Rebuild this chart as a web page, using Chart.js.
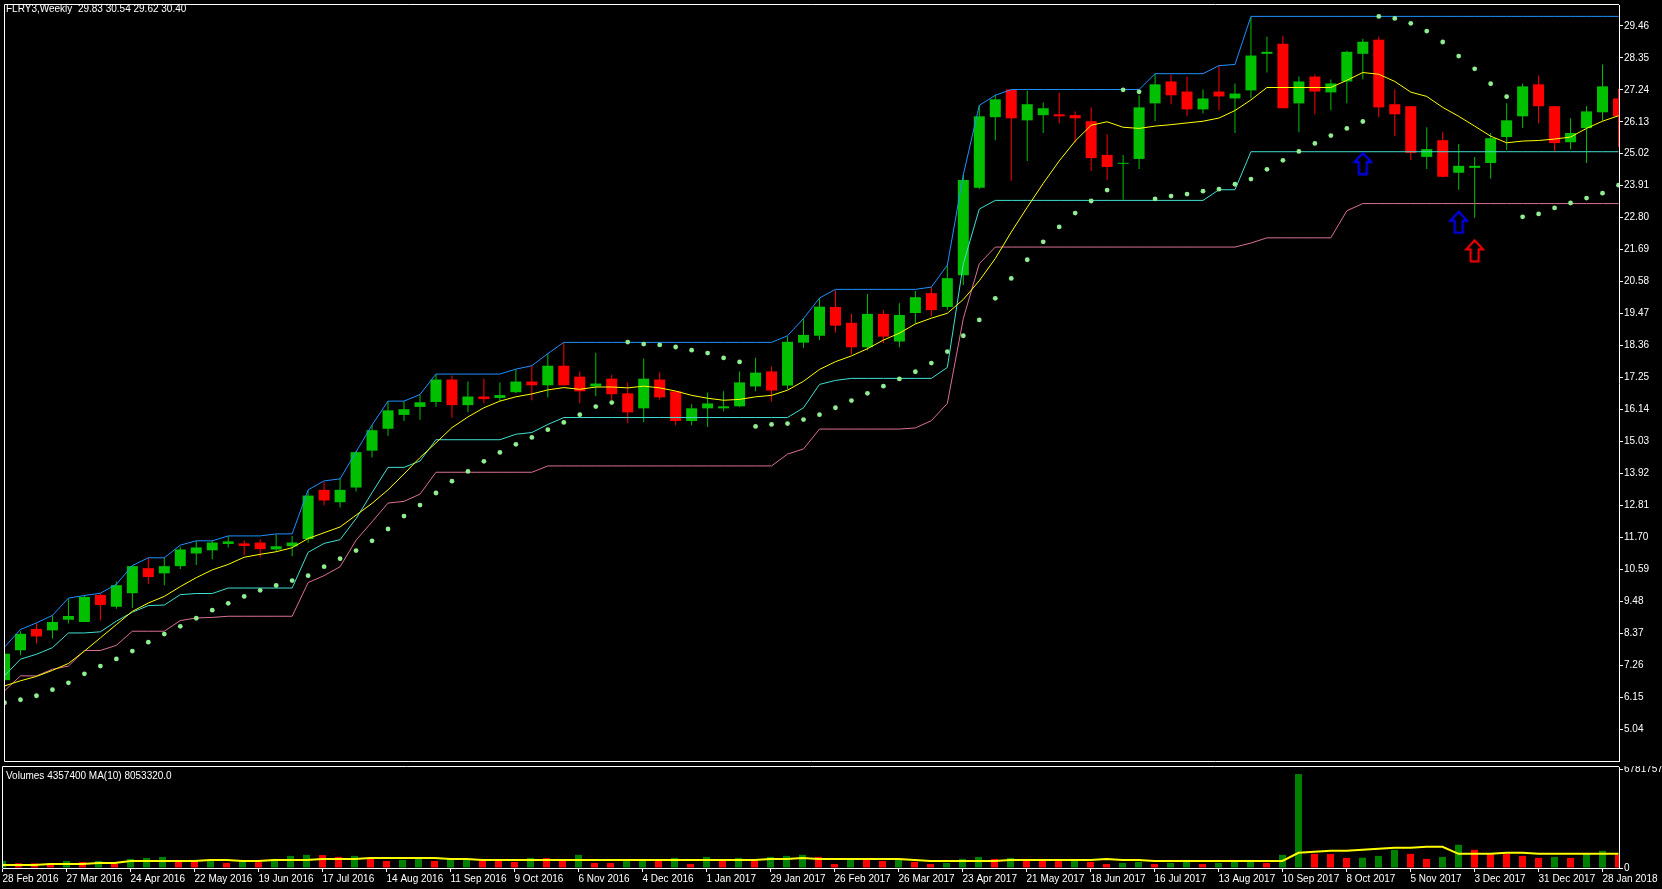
<!DOCTYPE html>
<html>
<head>
<meta charset="utf-8">
<script src="https://cdn.jsdelivr.net/npm/chart.js@4.4.1/dist/chart.umd.min.js"></script>
<style>
	html, body { margin: 0; padding: 0; background: #000; }
	body { width: 1662px; height: 889px; position: relative; overflow: hidden; font-family: "Liberation Sans", Arial, sans-serif; }
	canvas { position: absolute; left: 0; }
	#mainChart { top: 0; }
	#volumeChart { top: 766px; }
	.caption { position: absolute; left: 6px; color: #fff; font-size: 10px; line-height: 12px; white-space: pre; }
</style>
</head>
<body>
<canvas id="mainChart" width="1662" height="766"></canvas>
<canvas id="volumeChart" width="1662" height="123"></canvas>
<div class="caption" style="top:3px">FLRY3,Weekly  29.83 30.54 29.62 30.40</div>
<div class="caption" style="top:770px">Volumes 4357400 MA(10) 8053320.0</div>
<script>
// weekly bars, first one is the week of 28 Feb 2016
const opens = [6.74, 7.78, 8.52, 8.47, 8.84, 8.76, 9.70, 9.29, 9.76, 10.63,
	10.45, 10.70, 11.14, 11.25, 11.47, 11.49, 11.52, 11.28, 11.39, 11.64,
	13.35, 12.92, 13.43, 14.71, 15.47, 15.95, 16.23, 16.40, 17.18, 16.29,
	16.59, 16.54, 16.74, 17.11, 16.98, 17.66, 17.28, 16.94, 17.21, 16.70,
	16.18, 17.18, 16.77, 15.74, 16.18, 16.18, 16.25, 16.94, 17.46, 16.97,
	18.46, 18.70, 19.70, 19.15, 18.30, 19.46, 18.50, 19.49, 20.18, 19.70,
	20.80, 23.84, 26.29, 27.25, 26.18, 26.36, 26.39, 26.36, 26.15, 24.98,
	24.67, 24.84, 26.77, 27.53, 27.18, 26.56, 27.18, 26.94, 27.22, 28.49,
	28.84, 26.77, 27.70, 27.15, 27.53, 28.49, 28.98, 26.74, 26.67, 24.91,
	25.49, 24.36, 24.53, 24.70, 25.60, 26.32, 27.43, 26.67, 25.42, 25.91,
	26.46, 26.94];
const highs = [7.85, 8.44, 8.73, 8.99, 9.57, 9.68, 9.76, 10.17, 10.72, 10.99,
	10.99, 11.37, 11.57, 11.58, 11.75, 11.59, 11.63, 11.81, 11.75, 13.33,
	13.62, 13.75, 14.70, 15.60, 16.43, 16.43, 16.66, 17.37, 17.32, 17.11,
	17.21, 17.08, 17.53, 17.66, 18.08, 18.47, 17.46, 18.11, 17.35, 17.08,
	17.91, 17.42, 16.77, 16.32, 16.73, 16.77, 17.46, 17.94, 17.63, 18.68,
	19.30, 20.00, 20.28, 19.46, 20.15, 19.59, 19.83, 20.25, 20.39, 21.15,
	24.29, 26.70, 27.07, 27.25, 27.22, 26.80, 27.15, 26.49, 26.63, 25.70,
	24.98, 27.05, 27.80, 27.77, 27.70, 27.25, 28.08, 27.46, 29.77, 29.08,
	29.12, 27.70, 27.77, 27.60, 28.60, 29.01, 29.08, 27.25, 26.67, 25.94,
	25.77, 25.36, 24.91, 25.74, 26.77, 27.46, 27.74, 26.67, 26.25, 26.67,
	28.12, 27.27];
const lows = [6.60, 7.61, 8.02, 8.19, 8.71, 8.76, 8.81, 9.22, 9.25, 10.08,
	10.04, 10.60, 10.74, 10.94, 11.35, 11.09, 11.01, 11.20, 11.04, 11.51,
	12.81, 12.74, 13.29, 14.47, 15.23, 15.74, 15.78, 16.23, 15.85, 16.05,
	16.36, 16.43, 16.70, 16.46, 16.56, 16.97, 16.36, 16.60, 16.45, 15.66,
	15.70, 16.49, 15.59, 15.59, 15.53, 16.08, 16.22, 16.77, 16.42, 16.84,
	18.28, 18.55, 18.81, 18.05, 18.20, 18.45, 18.30, 19.11, 19.39, 19.60,
	20.46, 23.80, 25.49, 24.08, 24.77, 25.74, 26.08, 25.42, 24.42, 24.11,
	23.42, 24.49, 26.15, 26.74, 26.32, 26.42, 26.53, 25.74, 26.95, 27.84,
	26.60, 25.77, 26.39, 26.53, 26.77, 27.60, 26.29, 25.63, 24.80, 24.49,
	24.20, 23.77, 22.80, 24.15, 25.15, 25.91, 26.08, 25.11, 25.18, 24.70,
	26.17, 25.25];
const closes = [7.66, 8.35, 8.26, 8.76, 8.97, 9.63, 9.35, 10.04, 10.70, 10.32,
	10.70, 11.28, 11.35, 11.52, 11.56, 11.40, 11.29, 11.39, 11.52, 13.15,
	12.98, 13.35, 14.66, 15.42, 16.11, 16.15, 16.39, 17.18, 16.29, 16.59,
	16.50, 16.64, 17.11, 16.98, 17.66, 16.98, 16.77, 17.04, 16.67, 16.04,
	17.21, 16.56, 15.74, 16.18, 16.35, 16.25, 17.08, 17.42, 16.80, 18.49,
	18.73, 19.71, 19.05, 18.30, 19.46, 18.67, 19.42, 20.04, 19.59, 20.70,
	24.11, 26.32, 26.91, 26.25, 26.74, 26.60, 26.32, 26.25, 24.87, 24.56,
	24.70, 26.63, 27.43, 27.05, 26.56, 26.94, 27.01, 27.11, 28.43, 28.56,
	26.60, 27.53, 27.18, 27.46, 28.56, 28.91, 26.63, 26.39, 25.05, 25.18,
	24.22, 24.60, 24.60, 25.56, 26.18, 27.36, 26.67, 25.39, 25.74, 26.49,
	27.36, 26.32];

// channel lines (blue top, turquoise and pink bottoms), yellow average, SAR dots
const upperBand = [7.89, 8.50, 8.73, 8.99, 9.59, 9.68, 9.76, 10.07, 10.72, 10.99,
	10.99, 11.43, 11.58, 11.58, 11.75, 11.75, 11.75, 11.82, 11.82, 13.35,
	13.66, 13.73, 14.67, 15.60, 16.43, 16.43, 16.66, 17.37, 17.37, 17.37,
	17.37, 17.37, 17.54, 17.66, 18.08, 18.47, 18.47, 18.47, 18.47, 18.47,
	18.47, 18.47, 18.47, 18.47, 18.47, 18.47, 18.47, 18.47, 18.47, 18.70,
	19.30, 20.01, 20.31, 20.31, 20.31, 20.31, 20.31, 20.31, 20.39, 21.15,
	24.29, 26.70, 27.05, 27.25, 27.25, 27.25, 27.25, 27.25, 27.25, 27.25,
	27.25, 27.25, 27.80, 27.80, 27.80, 27.80, 28.08, 28.12, 29.79, 29.79,
	29.79, 29.79, 29.79, 29.79, 29.79, 29.79, 29.79, 29.79, 29.79, 29.79,
	29.79, 29.79, 29.79, 29.79, 29.79, 29.79, 29.79, 29.79, 29.79, 29.79,
	29.79, 29.79];
const fastLow = [6.89, 7.47, 7.64, 7.87, 8.38, 8.38, 8.42, 8.79, 9.10, 9.33,
	9.35, 9.71, 9.75, 9.75, 9.94, 9.94, 9.94, 9.94, 9.94, 11.18,
	11.49, 11.62, 12.35, 13.25, 14.13, 14.13, 14.35, 15.09, 15.09, 15.09,
	15.09, 15.09, 15.28, 15.34, 15.62, 15.86, 15.86, 15.86, 15.86, 15.86,
	15.86, 15.86, 15.86, 15.86, 15.86, 15.86, 15.86, 15.86, 15.86, 15.86,
	16.20, 17.01, 17.15, 17.22, 17.22, 17.22, 17.22, 17.22, 17.22, 17.60,
	21.20, 23.10, 23.40, 23.40, 23.40, 23.40, 23.40, 23.40, 23.40, 23.40,
	23.40, 23.40, 23.40, 23.40, 23.40, 23.40, 23.77, 23.77, 25.09, 25.09,
	25.09, 25.09, 25.09, 25.09, 25.09, 25.09, 25.09, 25.09, 25.09, 25.09,
	25.09, 25.09, 25.09, 25.09, 25.09, 25.09, 25.09, 25.09, 25.09, 25.09,
	25.09, 25.09];
const slowLow = [6.37, 6.89, 6.89, 7.12, 7.23, 7.77, 7.77, 7.95, 8.44, 8.44,
	8.44, 8.81, 8.90, 8.92, 8.96, 8.96, 8.96, 8.96, 8.96, 10.13,
	10.37, 10.68, 11.60, 12.24, 12.89, 12.95, 13.20, 13.96, 13.96, 13.96,
	13.96, 13.96, 13.96, 13.96, 14.18, 14.18, 14.18, 14.18, 14.18, 14.18,
	14.18, 14.18, 14.18, 14.18, 14.18, 14.18, 14.18, 14.18, 14.18, 14.59,
	14.77, 15.46, 15.46, 15.46, 15.46, 15.46, 15.46, 15.50, 15.75, 16.35,
	19.30, 21.20, 21.78, 21.78, 21.78, 21.78, 21.78, 21.78, 21.78, 21.78,
	21.78, 21.78, 21.78, 21.78, 21.78, 21.78, 21.78, 21.78, 21.92, 22.10,
	22.10, 22.10, 22.10, 22.10, 23.04, 23.29, 23.29, 23.29, 23.29, 23.29,
	23.29, 23.29, 23.29, 23.29, 23.29, 23.29, 23.29, 23.29, 23.29, 23.29,
	23.29, 23.29];
const maLine = [6.54, 6.72, 6.87, 7.08, 7.32, 7.75, 8.21, 8.67, 9.13, 9.42,
	9.65, 9.99, 10.30, 10.57, 10.76, 11.01, 11.11, 11.20, 11.34, 11.66,
	11.86, 12.06, 12.47, 12.88, 13.35, 13.90, 14.47, 14.98, 15.51, 15.88,
	16.20, 16.43, 16.58, 16.68, 16.82, 16.90, 16.84, 16.92, 16.92, 16.89,
	16.95, 16.89, 16.78, 16.63, 16.53, 16.46, 16.49, 16.58, 16.63, 16.81,
	17.12, 17.53, 17.80, 18.00, 18.25, 18.55, 18.79, 19.11, 19.31, 19.48,
	19.96, 20.61, 21.38, 22.30, 23.16, 23.99, 24.77, 25.46, 26.01, 26.13,
	25.94, 25.90, 25.98, 26.03, 26.09, 26.15, 26.26, 26.52, 26.89, 27.32,
	27.32, 27.32, 27.32, 27.32, 27.57, 27.84, 27.78, 27.53, 27.16, 27.01,
	26.63, 26.32, 25.98, 25.63, 25.40, 25.46, 25.48, 25.53, 25.60, 25.90,
	26.15, 26.34];
const sarDots = [5.96, 6.06, 6.20, 6.41, 6.65, 6.96, 7.23, 7.48, 7.75, 8.06,
	8.34, 8.61, 8.89, 9.17, 9.41, 9.65, 9.86, 10.03, 10.20, 10.37,
	10.68, 10.96, 11.24, 11.58, 11.99, 12.44, 12.82, 13.24, 13.65, 13.99,
	14.34, 14.65, 14.93, 15.17, 15.44, 15.69, 15.96, 16.24, 16.38, 18.48,
	18.41, 18.38, 18.31, 18.20, 18.10, 17.93, 17.79, 15.55, 15.62, 15.65,
	15.79, 15.96, 16.20, 16.45, 16.70, 16.95, 17.20, 17.45, 17.75, 18.15,
	18.70, 19.25, 20.00, 20.69, 21.34, 21.96, 22.48, 22.96, 23.38, 23.76,
	27.24, 27.17, 23.45, 23.55, 23.62, 23.72, 23.79, 23.96, 24.14, 24.48,
	24.79, 25.10, 25.38, 25.65, 25.90, 26.14, 29.79, 29.72, 29.55, 29.28,
	28.90, 28.41, 27.97, 27.45, 27.00, 22.83, 22.93, 23.14, 23.31, 23.48,
	23.65, 23.93];

// signal arrows: [bar, price]
const blueArrows = [[85, 24.68], [91, 22.64]];
const redArrows = [[92, 21.65]];

const volumes = [4844000, 3252000, 3200000, 3180000, 4844000, 4152000, 4844000, 3252000, 6228000, 6920000,
	7612000, 4844000, 4775000, 4913000, 3460000, 4152000, 4014000, 6228000, 8304000, 8996000,
	8858000, 7612000, 8304000, 6228000, 4844000, 5536000, 6920000, 4844000, 6228000, 6366000,
	4844000, 4775000, 4152000, 6920000, 6782000, 4844000, 8996000, 3460000, 3391000, 5536000,
	5674000, 5467000, 6920000, 2768000, 7612000, 5536000, 6920000, 4844000, 7612000, 8304000,
	8996000, 7612000, 2768000, 6228000, 6159000, 4844000, 6228000, 4152000, 2768000, 3460000,
	6228000, 7612000, 6228000, 6920000, 4844000, 4775000, 4706000, 4844000, 4152000, 2768000,
	3460000, 4152000, 2768000, 3460000, 5536000, 2768000, 3460000, 4152000, 5536000, 3460000,
	8996000, 64356000, 9688000, 9550000, 6920000, 7058000, 8304000, 12456000, 9688000, 6228000,
	7612000, 15916000, 12456000, 9688000, 9550000, 8304000, 6920000, 7612000, 6920000, 9688000,
	11764000, 8996000];
// G = volume up (green), R = volume down (red)
const volumeColors = "GRRRGRGRGGGRRGRGRGGGRRGRRGGRGGRRRGRRGRRGGRGRGRGRGGGRRGRRGRRGGGRGRRRGRRGGRGGRGGGRGGRRRGGGRRGGRRRRRGRGGR";
const volumeMA = [2076000, 2076000, 2076000, 2768000, 2768000, 2768000, 3460000, 3460000, 4844000, 4844000,
	4844000, 4844000, 4844000, 5536000, 5536000, 4844000, 4844000, 5536000, 5536000, 5536000,
	6228000, 6228000, 6228000, 6920000, 6920000, 6920000, 6920000, 6920000, 6228000, 6228000,
	5536000, 5536000, 5536000, 5536000, 5536000, 5536000, 5536000, 5536000, 5536000, 5536000,
	5536000, 5536000, 5536000, 5536000, 5536000, 5536000, 5536000, 5536000, 6228000, 6228000,
	6920000, 6228000, 6228000, 6228000, 6228000, 6228000, 6228000, 5536000, 4844000, 4844000,
	4844000, 4844000, 4844000, 5536000, 5536000, 5536000, 5536000, 5536000, 5536000, 6228000,
	5536000, 5536000, 4844000, 4844000, 4844000, 4844000, 4844000, 4844000, 4844000, 4844000,
	4844000, 10380000, 11072000, 11764000, 11764000, 12456000, 13148000, 13840000, 13840000, 14532000,
	14532000, 9688000, 9688000, 9688000, 10380000, 10380000, 9688000, 9688000, 9688000, 9688000,
	9688000, 9688000];

const priceTicks = [29.46, 28.35, 27.24, 26.13, 25.02, 23.91, 22.80, 21.69, 20.58, 19.47, 18.36, 17.25,
	16.14, 15.03, 13.92, 12.81, 11.70, 10.59, 9.48, 8.37, 7.26, 6.15, 5.04];
const volumeTicks = [0, 67817573];
const dateLabels = ["28 Feb 2016", "27 Mar 2016", "24 Apr 2016", "22 May 2016", "19 Jun 2016", "17 Jul 2016",
	"14 Aug 2016", "11 Sep 2016", "9 Oct 2016", "6 Nov 2016", "4 Dec 2016", "1 Jan 2017", "29 Jan 2017",
	"26 Feb 2017", "26 Mar 2017", "23 Apr 2017", "21 May 2017", "18 Jun 2017", "16 Jul 2017", "13 Aug 2017",
	"10 Sep 2017", "8 Oct 2017", "5 Nov 2017", "3 Dec 2017", "31 Dec 2017", "28 Jan 2018"];
const barsPerLabel = 4;

const X_MIN = 0.03125;
const X_MAX = 101.03125;
const PRICE_MIN = 3.934;
const PRICE_MAX = 30.185;
const VOLUME_MAX = 69200000;

const UP = "#00C000";
const DOWN = "#FF0000";
const font = { family: "'Liberation Sans', Arial, sans-serif", size: 10 };

Chart.defaults.font.family = font.family;
Chart.defaults.color = "#fff";

const bars = opens.map((_, i) => i);
const xy = (arr) => arr.map((v, i) => ({ x: i, y: v }));
const candleColor = bars.map((i) => (closes[i] >= opens[i] ? UP : DOWN));

function makeArrow(color) {
	const c = document.createElement("canvas");
	c.width = 21;
	c.height = 24;
	const g = c.getContext("2d");
	g.strokeStyle = color;
	g.lineWidth = 2;
	g.beginPath();
	g.moveTo(10.5, 1.5);
	g.lineTo(19, 10.5);
	g.lineTo(14.5, 10.5);
	g.lineTo(14.5, 22.5);
	g.lineTo(6.5, 22.5);
	g.lineTo(6.5, 10.5);
	g.lineTo(2, 10.5);
	g.closePath();
	g.stroke();
	return c;
}

// white frame on the left and top (and bottom for the price pane)
function framePlugin(withBottom) {
	return {
		id: "frame",
		afterDraw(chart) {
			const { ctx, chartArea: a } = chart;
			ctx.save();
			ctx.strokeStyle = "#fff";
			ctx.lineWidth = 1;
			ctx.beginPath();
			ctx.moveTo(a.left - 0.5, a.bottom + 0.5);
			ctx.lineTo(a.left - 0.5, a.top - 0.5);
			ctx.lineTo(a.right, a.top - 0.5);
			if (withBottom) {
				ctx.moveTo(a.left - 0.5, a.bottom + 0.5);
				ctx.lineTo(a.right, a.bottom + 0.5);
			}
			ctx.stroke();
			ctx.restore();
		},
	};
}

const rightAxis = (ticks, fmt) => ({
	position: "right",
	afterBuildTicks: (s) => {
		s.ticks = ticks.map((v) => ({ value: v }));
	},
	afterFit: (s) => {
		s.width = 43;
		s.paddingTop = 0;
		s.paddingBottom = 0;
	},
	ticks: { color: "#fff", font, padding: 1, callback: fmt },
	grid: { drawOnChartArea: false, drawTicks: true, tickLength: 4, color: "#fff" },
	border: { display: true, color: "#fff" },
});

const lineSet = (arr, color, order, width = 1) => ({
	type: "line",
	data: xy(arr),
	borderColor: color,
	borderWidth: width,
	pointRadius: 0,
	tension: 0,
	order,
});

new Chart(document.getElementById("mainChart"), {
	type: "bar",
	data: {
		datasets: [
			{
				data: bars.map((i) => ({ x: i, y: [lows[i], highs[i]] })),
				backgroundColor: candleColor,
				barThickness: 1,
				grouped: false,
				inflateAmount: 0,
				order: 8,
			},
			{
				data: bars.map((i) => ({ x: i, y: [opens[i], closes[i]] })),
				backgroundColor: candleColor,
				barThickness: 11,
				minBarLength: 1,
				grouped: false,
				inflateAmount: 0,
				order: 7,
			},
			lineSet(slowLow, "#DB7093", 6),
			lineSet(fastLow, "#40E0D0", 5),
			lineSet(upperBand, "#1E90FF", 4),
			lineSet(maLine, "#FFFF00", 3),
			{
				type: "line",
				data: xy(sarDots),
				showLine: false,
				pointRadius: 2.4,
				pointBorderWidth: 0,
				pointBackgroundColor: "#90EE90",
				order: 2,
			},
			{
				type: "line",
				data: blueArrows.map(([x, y]) => ({ x, y })),
				showLine: false,
				pointStyle: makeArrow("#0000FF"),
				order: 1,
			},
			{
				type: "line",
				data: redArrows.map(([x, y]) => ({ x, y })),
				showLine: false,
				pointStyle: makeArrow("#FF0000"),
				order: 0,
			},
		],
	},
	options: {
		responsive: false,
		animation: false,
		events: [],
		layout: { padding: { left: 3, top: 3, right: 0, bottom: 2 } },
		plugins: { legend: { display: false }, tooltip: { enabled: false } },
		scales: {
			x: { type: "linear", min: X_MIN, max: X_MAX, display: false, offset: false },
			y: { min: PRICE_MIN, max: PRICE_MAX, ...rightAxis(priceTicks, (v) => Number(v).toFixed(2)) },
		},
	},
	plugins: [framePlugin(true)],
});

new Chart(document.getElementById("volumeChart"), {
	type: "bar",
	data: {
		datasets: [
			{
				data: xy(volumes),
				backgroundColor: bars.map((i) => (volumeColors[i] === "G" ? "#008000" : "#FF0000")),
				barThickness: 7,
				grouped: false,
				inflateAmount: 0,
				order: 1,
			},
			lineSet(volumeMA, "#FFFF00", 0, 2),
		],
	},
	options: {
		responsive: false,
		animation: false,
		events: [],
		layout: { padding: { left: 3, top: 1, right: 0, bottom: 0 } },
		plugins: { legend: { display: false }, tooltip: { enabled: false } },
		scales: {
			x: {
				type: "linear",
				min: X_MIN,
				max: X_MAX,
				offset: false,
				afterBuildTicks: (s) => {
					s.ticks = dateLabels.map((_, k) => ({ value: k * barsPerLabel }));
				},
				afterFit: (s) => {
					s.height = 21;
					s.paddingLeft = 0;
					s.paddingRight = 0;
				},
				ticks: {
					color: "#fff",
					font,
					align: "start",
					autoSkip: false,
					maxRotation: 0,
					minRotation: 0,
					padding: 1,
					callback: (v, k) => dateLabels[k],
				},
				grid: { drawOnChartArea: false, drawTicks: true, tickLength: 4, color: "#fff", offset: false },
				border: { display: true, color: "#fff" },
			},
			y: { min: 0, max: VOLUME_MAX, ...rightAxis(volumeTicks, (v) => String(v)) },
		},
	},
	plugins: [framePlugin(false)],
});
</script>
</body>
</html>
